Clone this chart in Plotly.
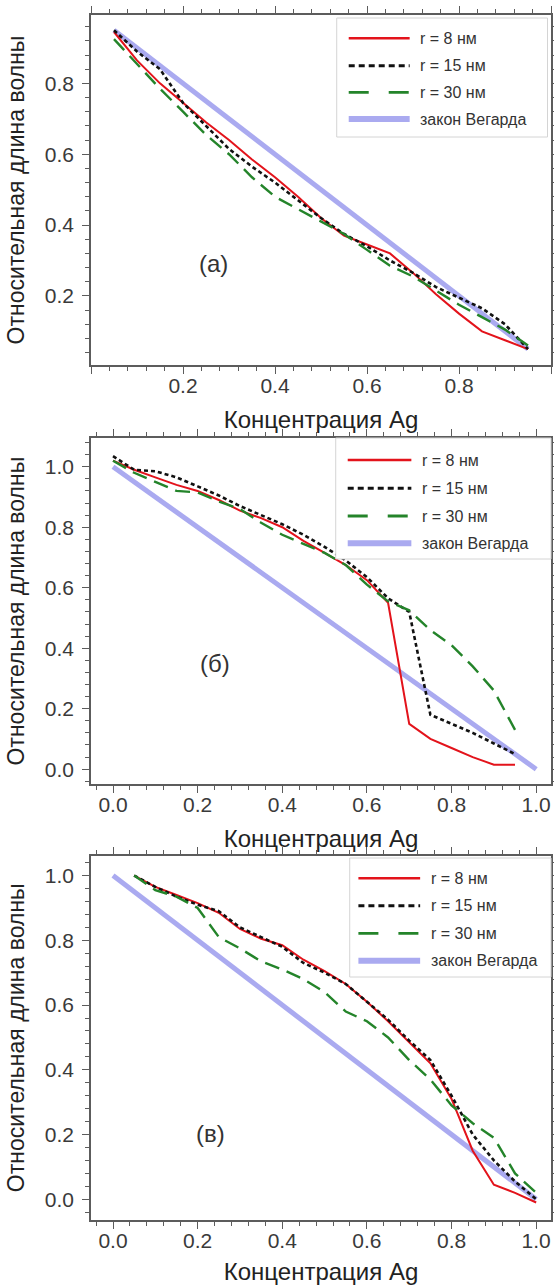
import plotly.graph_objects as go

# ---------------- data ----------------
# Panel (а): r = 8, 15, 30 nm, Ag fraction 0.05 ... 0.95
conc_a = [0.05, 0.10, 0.15, 0.20, 0.25, 0.30, 0.35, 0.40, 0.45, 0.50,
          0.55, 0.60, 0.65, 0.70, 0.75, 0.80, 0.85, 0.90, 0.95]
r8_a = [0.945, 0.865, 0.80, 0.745, 0.69, 0.64, 0.585, 0.535, 0.48, 0.42,
        0.37, 0.345, 0.32, 0.265, 0.205, 0.15, 0.10, 0.075, 0.05]
r15_a = [0.95, 0.89, 0.84, 0.745, 0.68, 0.615, 0.565, 0.52, 0.47, 0.42,
         0.375, 0.34, 0.30, 0.265, 0.225, 0.195, 0.165, 0.12, 0.05]
r30_a = [0.925, 0.855, 0.785, 0.72, 0.655, 0.60, 0.535, 0.48, 0.445, 0.41,
         0.375, 0.33, 0.285, 0.255, 0.215, 0.175, 0.14, 0.105, 0.06]
vegard_a_x = [0.05, 0.95]
vegard_a_y = [0.95, 0.05]

# Panel (б): Ag fraction 0.00 ... 0.95
conc_b = [0.00, 0.05, 0.10, 0.15, 0.20, 0.25, 0.30, 0.35, 0.40, 0.45,
          0.50, 0.55, 0.60, 0.65, 0.70, 0.75, 0.80, 0.85, 0.90, 0.95]
r8_b = [1.02, 0.99, 0.965, 0.94, 0.92, 0.89, 0.855, 0.83, 0.80, 0.755,
        0.715, 0.675, 0.625, 0.55, 0.15, 0.10, 0.07, 0.04, 0.015, 0.015]
r15_b = [1.035, 0.99, 0.985, 0.965, 0.935, 0.905, 0.87, 0.84, 0.81, 0.775,
         0.735, 0.69, 0.635, 0.565, 0.52, 0.18, 0.15, 0.12, 0.085, 0.05]
r30_b = [1.02, 0.98, 0.95, 0.92, 0.915, 0.885, 0.86, 0.815, 0.775, 0.745,
         0.715, 0.675, 0.61, 0.555, 0.525, 0.46, 0.41, 0.34, 0.26, 0.13]
vegard_b_x = [0.0, 1.0]
vegard_b_y = [1.0, 0.0]

# Panel (в): Ag fraction 0.05 ... 1.00
conc_c = [0.05, 0.10, 0.15, 0.20, 0.25, 0.30, 0.35, 0.40, 0.45, 0.50,
          0.55, 0.60, 0.65, 0.70, 0.75, 0.80, 0.85, 0.90, 0.95, 1.00]
r8_c = [1.0, 0.965, 0.94, 0.915, 0.885, 0.835, 0.805, 0.785, 0.74, 0.705,
        0.665, 0.61, 0.55, 0.485, 0.42, 0.31, 0.15, 0.045, 0.02, -0.01]
r15_c = [1.0, 0.965, 0.935, 0.91, 0.89, 0.84, 0.81, 0.78, 0.73, 0.70,
         0.665, 0.61, 0.555, 0.49, 0.43, 0.32, 0.20, 0.12, 0.055, 0.0]
r30_c = [1.0, 0.955, 0.935, 0.90, 0.81, 0.775, 0.735, 0.71, 0.68, 0.64,
         0.58, 0.55, 0.50, 0.43, 0.37, 0.29, 0.235, 0.19, 0.08, 0.02]
vegard_c_x = [0.0, 1.0]
vegard_c_y = [1.0, 0.0]

series_names = ["r = 8 нм", "r = 15 нм", "r = 30 нм", "закон Вегарда"]
panel_labels = ["(а)", "(б)", "(в)"]
x_title = "Концентрация Ag"
y_title = "Относительная длина волны"

# ---------------- styles ----------------
W, H = 554, 1285
ML, MR, MT, MB = 91, 2.5, 15, 65
PW, PH = W - ML - MR, H - MT - MB

FONT = "Liberation Sans, Arial, sans-serif"
RED = "#e3131b"
BLACK = "#111111"
GREEN = "#24842a"
BLUE = "#aaaaf0"
AXC = "#5c5c5c"

styles = [
    dict(color=RED, width=2),
    dict(color=BLACK, width=2.6, dash="4px,3px"),
    dict(color=GREEN, width=2.4, dash="15px,8px"),
    dict(color=BLUE, width=5),
]
legend_dash = [None, "6px,4px", "20px,20px", None]


def px_x(p):
    return (p - ML) / PW


def px_y(p):
    return (H - MB - p) / PH


fig = go.Figure()

panels = [
    (conc_a, [r8_a, r15_a, r30_a], vegard_a_x, vegard_a_y, "x", "y"),
    (conc_b, [r8_b, r15_b, r30_b], vegard_b_x, vegard_b_y, "x2", "y2"),
    (conc_c, [r8_c, r15_c, r30_c], vegard_c_x, vegard_c_y, "x3", "y3"),
]

for conc, curves, vx, vy, xa, ya in panels:
    fig.add_trace(go.Scatter(x=vx, y=vy, mode="lines", line=styles[3],
                             name=series_names[3], showlegend=False,
                             xaxis=xa, yaxis=ya))
    for k, yv in enumerate(curves):
        fig.add_trace(go.Scatter(x=conc, y=yv, mode="lines", line=styles[k],
                                 name=series_names[k], showlegend=False,
                                 xaxis=xa, yaxis=ya))


def axis(**kw):
    base = dict(
        showline=True, linecolor=AXC, linewidth=1.5, mirror="allticks",
        ticks="outside", ticklen=7, tickwidth=1.3, tickcolor=AXC,
        showgrid=False, zeroline=False, automargin=False,
        tickfont=dict(family=FONT, size=21, color="#3a3a3a"),
        minor=dict(dtick=0.04, tick0=0, ticks="outside", ticklen=4,
                   tickwidth=1, tickcolor=AXC, showgrid=False),
    )
    base.update(kw)
    return base


xt = dict(text=x_title, font=dict(family=FONT, size=24, color="#222222"), standoff=15)
yt = dict(text=y_title, font=dict(family=FONT, size=23, color="#222222"), standoff=14)

# vertical extents (px from top) of the three plot areas
boxes = [(15, 365), (438, 784.3), (855.5, 1220)]
doms = [[px_y(b), px_y(t)] for t, b in boxes]

fig.update_layout(
    width=W, height=H,
    margin=dict(l=ML, r=MR, t=MT, b=MB, pad=0),
    paper_bgcolor="white", plot_bgcolor="white",
    showlegend=False,
    xaxis=axis(domain=[0, 1], anchor="y", range=[0.0, 1.0],
               tickmode="array", tickvals=[0.0, 0.2, 0.4, 0.6, 0.8, 1.0],
               ticktext=["", "0.2", "0.4", "0.6", "0.8", ""], title=xt,
               ticklabelstandoff=-6),
    yaxis=axis(domain=doms[0], anchor="x", range=[0.005, 0.993],
               tick0=0, dtick=0.2, tickformat=".1f", title=yt,
               ticklabelstandoff=4),
    xaxis2=axis(domain=[0, 1], anchor="y2", range=[-0.052, 1.035],
                tick0=0, dtick=0.2, tickformat=".1f", title=xt,
                ticklabelstandoff=-6),
    yaxis2=axis(domain=doms[1], anchor="x2", range=[-0.05, 1.095],
                tick0=0, dtick=0.2, tickformat=".1f", title=yt,
                ticklabelstandoff=4),
    xaxis3=axis(domain=[0, 1], anchor="y3", range=[-0.052, 1.035],
                tick0=0, dtick=0.2, tickformat=".1f", title=xt,
                ticklabelstandoff=-6),
    yaxis3=axis(domain=doms[2], anchor="x3", range=[-0.064, 1.062],
                tick0=0, dtick=0.2, tickformat=".1f", title=yt,
                ticklabelstandoff=4),
)

# panel letters
label_pos = [(0.267, 0.292, "x", "y"), (0.24, 0.348, "x2", "y2"), (0.23, 0.202, "x3", "y3")]
for (lx, ly, xa, ya), txt in zip(label_pos, panel_labels):
    fig.add_annotation(x=lx, y=ly, xref=xa, yref=ya, text=txt, showarrow=False,
                       font=dict(family=FONT, size=24, color="#333333"))

# legend boxes drawn in the upper-right corner of each panel
legends = [
    dict(box=(337, 548, 18, 137), rows=(38.3, 65.7, 92.3, 119), line=(349, 410), text=418),
    dict(box=(336, 551.5, 438, 559), rows=(460, 488.3, 516, 543.3), line=(348, 411.7), text=420.5),
    dict(box=(350, 551.5, 858, 977), rows=(878.3, 905.7, 933.3, 960.7), line=(358.7, 420.5), text=429),
]
for lg in legends:
    x0, x1, y0, y1 = lg["box"]
    fig.add_shape(type="rect", xref="paper", yref="paper",
                  x0=px_x(x0), x1=px_x(x1), y0=px_y(y1), y1=px_y(y0),
                  line=dict(color="#d4d4d4", width=1), fillcolor="white", layer="above")
    for k, ry in enumerate(lg["rows"]):
        ln = dict(color=styles[k]["color"], width=styles[k]["width"] + (0.4 if k < 3 else 1))
        if legend_dash[k]:
            ln["dash"] = legend_dash[k]
        fig.add_shape(type="line", xref="paper", yref="paper",
                      x0=px_x(lg["line"][0]), x1=px_x(lg["line"][1]),
                      y0=px_y(ry), y1=px_y(ry), line=ln, layer="above")
        fig.add_annotation(x=px_x(lg["text"]), y=px_y(ry), xref="paper", yref="paper",
                           text=series_names[k], showarrow=False, xanchor="left",
                           yanchor="middle",
                           font=dict(family=FONT, size=16, color="#333333"))

fig.write_html("out.html")
